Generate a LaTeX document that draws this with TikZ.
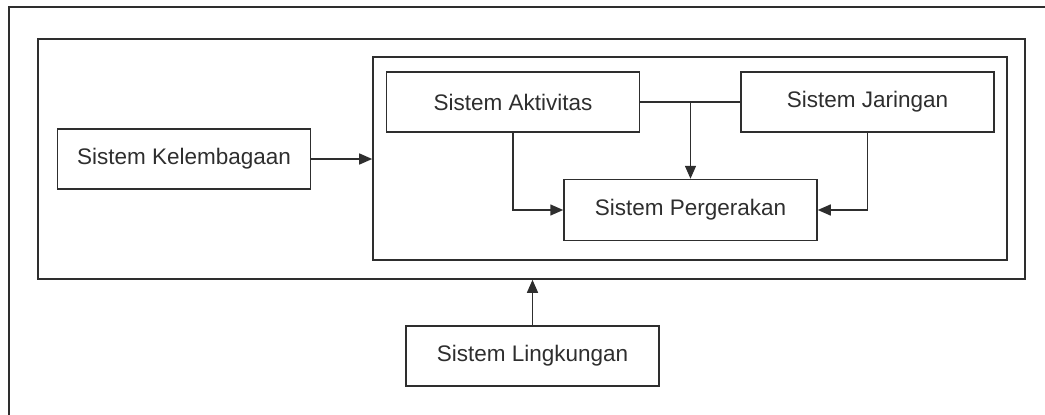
\documentclass[tikz,border=0pt]{standalone}
\usepackage{fontspec}
\setmainfont{Liberation Sans}
\usepackage{tikz}
\usetikzlibrary{arrows.meta,positioning}
\definecolor{ink}{HTML}{2E2E2E}
\tikzset{
  every picture/.style={
    line join=miter,
    >={Triangle[length=13pt,width=11pt]},   % one arrow tip everywhere
  },
  sysbox/.style={draw=ink, line width=1.5pt, text=ink,
    minimum width=253pt, minimum height=60pt,
    font=\fontsize{22.5}{27}\selectfont},
  framebox/.style={draw=ink, line width=1.6pt},
  link/.style={draw=ink, line width=1.5pt},
}

\begin{document}
\begin{tikzpicture}[x=1pt, y=-1pt]
    \useasboundingbox (0,0) rectangle (1045,415);

    % Frames
    \draw[framebox, line width=2.2pt] (9,415) -- (9,7) -- (1045,7);
    \node[framebox, minimum width=987pt, minimum height=240pt] (big) at (531.5,159) {};
    \node[framebox, minimum width=634pt, minimum height=203pt] (inner) at (690,158.5) {};

    % Systems
    \node[sysbox] (kel) at (184,159) {Sistem Kelembagaan};
    \node[sysbox] (akt) at (513,102) {Sistem Aktivitas};
    \node[sysbox] (jar) at (867.5,102) {Sistem Jaringan};
    \node[sysbox, minimum height=61pt] (per) at (690.5,210) {Sistem Pergerakan};
    \node[sysbox] (lin) at (532.5,356) {Sistem Lingkungan};

    % Links
    \draw[link, ->] (kel.east) -- (kel.east -| inner.west);
    \draw[link] (akt.east) -- (jar.west);
    \draw[link, ->] (per.north |- akt.east) -- (per.north);
    \draw[link, ->] (akt.south) |- (per.west);
    \draw[link, ->] (jar.south) |- (per.east);
    \draw[link, ->] (lin.north) -- (lin.north |- big.south);
\end{tikzpicture}
\end{document}
